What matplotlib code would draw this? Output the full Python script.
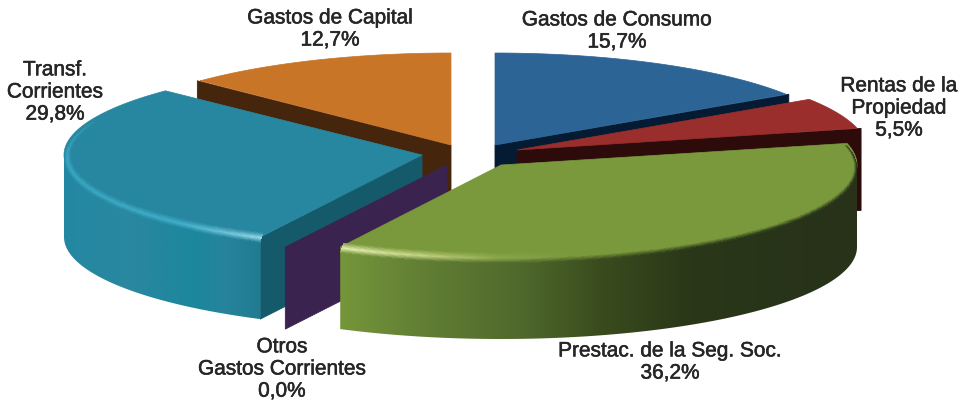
import numpy as np
import matplotlib
matplotlib.use("Agg")
import matplotlib.pyplot as plt
import matplotlib.patheffects as pe
from matplotlib.colors import to_rgb
from matplotlib.patches import Polygon

# ---- data ----
categories = ["Gastos de Consumo", "Rentas de la\nPropiedad", "Prestac. de la Seg. Soc.",
              "Otros\nGastos Corrientes", "Transf.\nCorrientes", "Gastos de Capital"]
values = [15.7, 5.5, 36.2, 0.0, 29.8, 12.7]
value_labels = ["15,7%", "5,5%", "36,2%", "0,0%", "29,8%", "12,7%"]

# ---- styles / layout (pixel space of the picture) ----
W, H = 961, 405
RY, DEPTH = 92, 82
wall_rx = [352, 354, 356, 358, 358, 354]
top_rx = [349, 350, 356, 358, 358, 350]
apex = [(495, 145), (517, 150), (501, 165), (447, 165), (422, 155), (451, 145)]
top_col = ["#2d6496", "#992e2c", "#7a983c", "#3b2350", "#2787a0", "#c87528"]
side_col = ["#051a33", "#2d0b0b", "#27321a", "#3b2350", "#155a6b", "#45260c"]
wall_stops = {
    2: [(340, "#76963a"), (420, "#627f34"), (520, "#4f692c"), (600, "#3a4c1e"), (690, "#2a3718"), (858, "#27321a")],
    4: [(64, "#2488a2"), (130, "#2a87a0"), (195, "#1c879d"), (225, "#26849c"), (264, "#1f7a90")],
}
high_stops = {
    2: [(340, "#e6edb4"), (420, "#c4d582"), (500, "#8aa64a"), (570, "#7a983c"), (858, "#7a983c")],
    4: [(64, "#38a6c2"), (180, "#40aeca"), (230, "#72c6da"), (264, "#9adae8")],
}
draw_order = [5, 0, 1, 4, 3, 2]
label_pos = [(617, 31), (899, 108), (670, 362), (282, 369), (55, 92), (330, 29)]

plt.rcParams["font.family"] = ["Liberation Sans", "DejaVu Sans"]
fig = plt.figure(figsize=(W / 100, H / 100), dpi=100)
ax = fig.add_axes([0, 0, 1, 1])
ax.set_xlim(0, W)
ax.set_ylim(H, 0)
ax.axis("off")

total = sum(values)
edges = np.concatenate([[0], np.cumsum(values)]) / total * 2 * np.pi


def rim(c, t, rx, ry=RY, off=0.0):
    return c[0] + rx * np.sin(t), c[1] - ry * np.cos(t) + off


def gradient(stops, x):
    xs = [s[0] for s in stops]
    cols = np.array([to_rgb(s[1]) for s in stops])
    return np.stack([np.interp(x, xs, cols[:, i]) for i in range(3)], axis=-1)


z = 1
for i in draw_order:
    c = apex[i]
    t0, t1 = edges[i], edges[i + 1]
    # radial walls that face the viewer
    for t, visible in ((t0, np.sin(t0) < -1e-6), (t1, np.sin(t1) > 1e-6)):
        if not visible:
            continue
        x, y = rim(c, t, wall_rx[i])
        ax.add_patch(Polygon([c, (x, y), (x, y + DEPTH), (c[0], c[1] + DEPTH)],
                             closed=True, fc=side_col[i], ec=side_col[i], lw=0.6,
                             joinstyle="round", zorder=z))
    z += 1
    if t1 - t0 < 1e-6:
        continue
    # outer wall with horizontal gradient
    a, b = max(t0, np.pi / 2), min(t1, 1.5 * np.pi)
    if i in wall_stops and b > a:
        t = np.linspace(a, b, 240)
        x, y = rim(c, t, wall_rx[i])
        poly = np.vstack([np.column_stack([x, y]), np.column_stack([x, y + DEPTH])[::-1]])
        patch = Polygon(poly, closed=True, fc="none", ec="none", zorder=z)
        ax.add_patch(patch)
        gx = np.linspace(x.min(), x.max(), 500)
        img = ax.imshow(gradient(wall_stops[i], gx)[None, :, :], aspect="auto", interpolation="bilinear",
                        extent=(x.min(), x.max(), y.max() + DEPTH + 2, y.min() - 2), zorder=z)
        img.set_clip_path(patch)
    z += 1
    # top face
    t = np.linspace(t0, t1, 240)
    x, y = rim(c, t, top_rx[i])
    ax.add_patch(Polygon(np.vstack([[c], np.column_stack([x, y])]), closed=True,
                         fc=top_col[i], ec=top_col[i], lw=0.5, zorder=z))
    z += 1
    # bevel band along the front rim
    if i in wall_stops:
        tt = np.linspace(t0, t1, 320)
        ss = np.linspace(0, 1, 15)
        T, S = np.meshgrid(tt, ss)
        X = c[0] + (top_rx[i] - 7 * (1 - S)) * np.sin(T)
        Y = c[1] - (RY - 5 * (1 - S)) * np.cos(T) + 6 * S * (1 - np.cos(T)) / 2
        xm = 0.25 * (X[:-1, :-1] + X[1:, :-1] + X[:-1, 1:] + X[1:, 1:])
        Tm = 0.5 * (T[:-1, :-1] + T[:-1, 1:])
        Sm = 0.5 * (S[:-1, :-1] + S[1:, :-1])
        top = np.array(to_rgb(top_col[i]))
        hi = gradient(high_stops[i], xm)
        wall = gradient(wall_stops[i], xm)
        u = Sm[..., None]
        col = np.where(u < 0.55, top + (hi - top) * (u / 0.55), hi + (wall - hi) * ((u - 0.55) / 0.45))
        deg = np.degrees(Tm)
        w = np.clip((deg - 60) / 25, 0, 1) * np.clip((295 - deg) / 25, 0, 1)
        ax.pcolormesh(X, Y, np.dstack([col, w]), shading="flat", antialiased=False,
                      edgecolors="none", rasterized=True, zorder=z)
        ax.set_xlim(0, W)
        ax.set_ylim(H, 0)
    z += 1

for name, val, (lx, ly) in zip(categories, value_labels, label_pos):
    ax.text(lx, ly, f"{name}\n{val}", ha="center", va="center", fontsize=15.0, color="#262626",
            linespacing=1.21, zorder=z,
            path_effects=[pe.withStroke(linewidth=0.4, foreground="#262626")])

fig.savefig("out.png", dpi=100, facecolor="white")
